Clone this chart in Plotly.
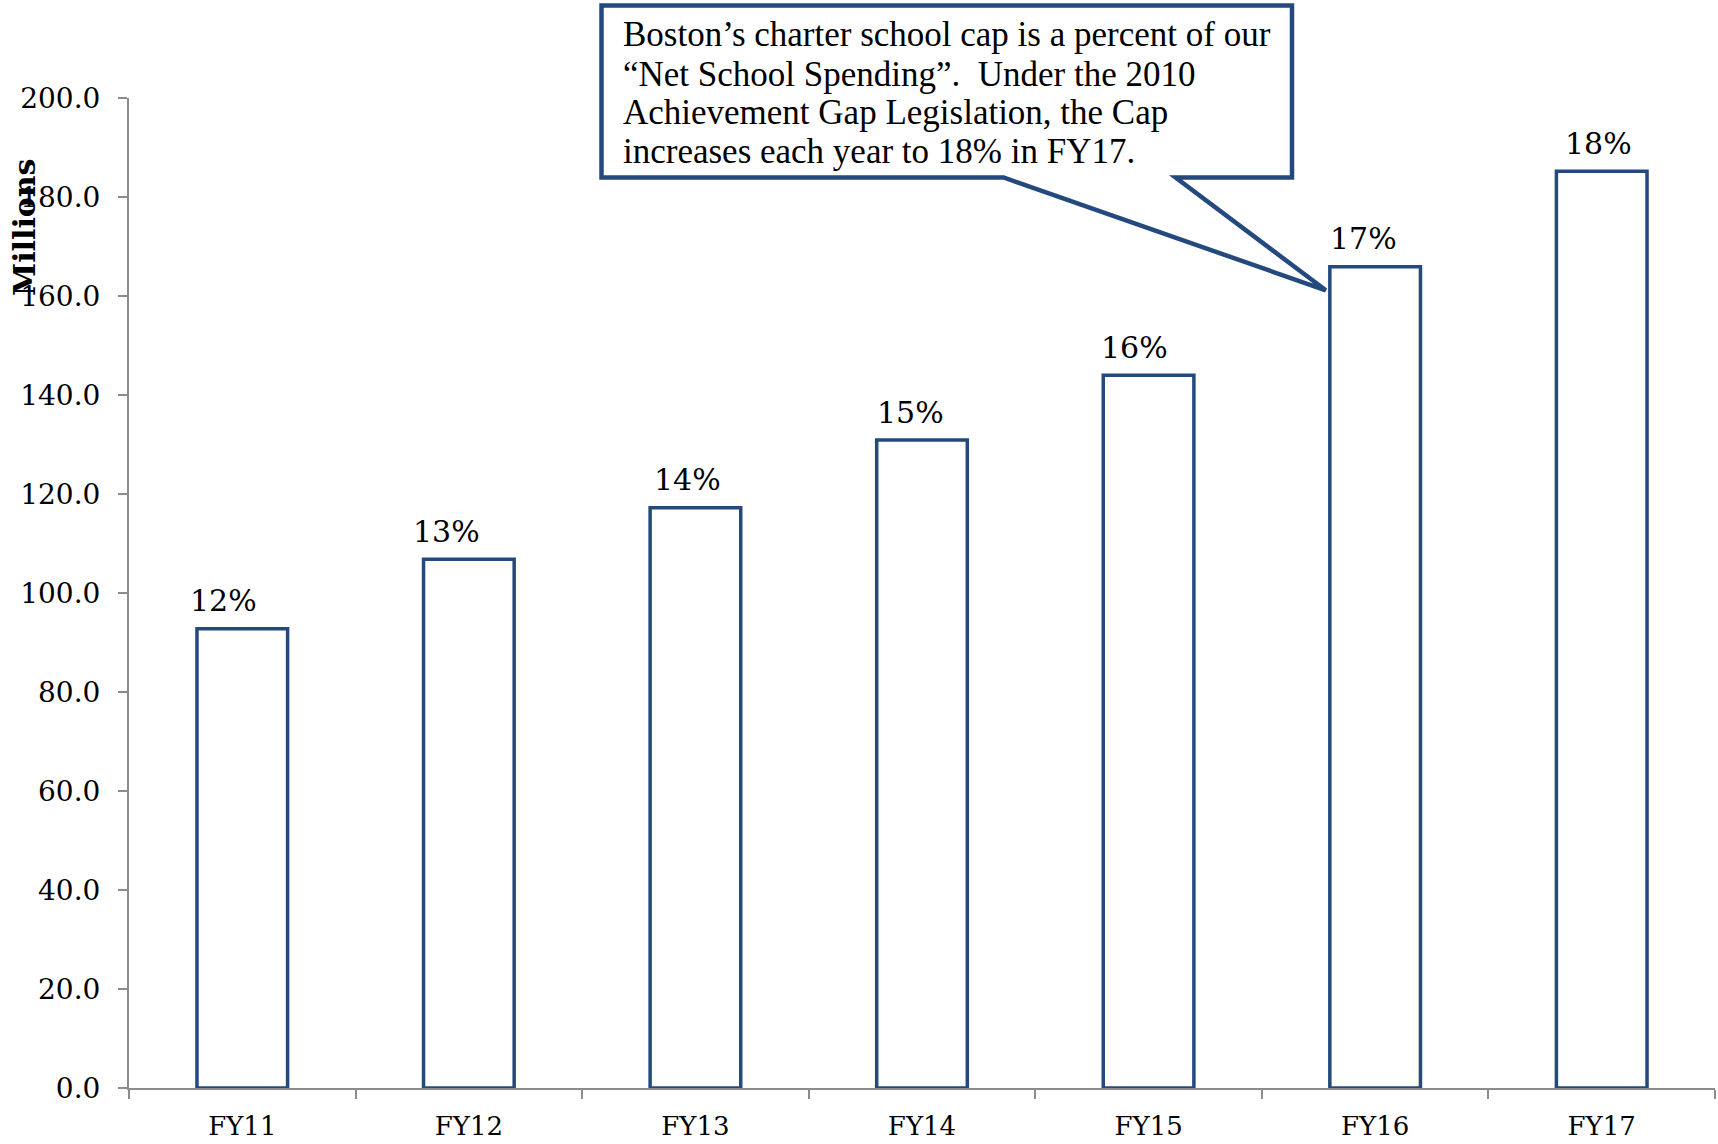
import plotly.graph_objects as go

categories = ["FY11", "FY12", "FY13", "FY14", "FY15", "FY16", "FY17"]
values = [92.8, 106.8, 117.2, 130.9, 144.0, 165.9, 185.2]
pct_labels = ["12%", "13%", "14%", "15%", "16%", "17%", "18%"]
y_ticks = [0, 20, 40, 60, 80, 100, 120, 140, 160, 180, 200]
y_tick_text = [f"{v:.1f}" for v in y_ticks]
callout_lines = [
    "Boston\u2019s charter school cap is a percent of our",
    "\u201cNet School Spending\u201d.  Under the 2010",
    "Achievement Gap Legislation, the Cap",
    "increases each year to 18% in FY17.",
]

# label placement style (pixel offsets of the % labels relative to bar centre)
label_xshift = [-19, -22, -8, -12, -14, -12, -3]

BLUE = "#24497E"
GRAY = "#8C8C8C"
W, H = 1718, 1144
L, R, T, B = 129, 3, 98, 56
pw = W - L - R
ph = H - T - B


def px(x):
    return (x - L) / pw


def py(y):
    return (H - B - y) / ph


fig = go.Figure()
fig.add_trace(go.Bar(
    x=categories, y=values, width=0.4,
    marker=dict(color="white", line=dict(color=BLUE, width=3.5)),
    cliponaxis=False,
))

for cat, val, lab, dx in zip(categories, values, pct_labels, label_xshift):
    fig.add_annotation(x=cat, y=val, text=lab, showarrow=False,
                       xanchor="center", yanchor="middle", yshift=28, xshift=dx,
                       font=dict(family="DejaVu Serif", size=30, color="black"))

# callout shape
bx0, bx1, by0, by1 = 601.5, 1292, 5.5, 177.5
base1, base2 = 1003.6, 1175.6
tip = (1325.8, 290.3)
pts = [(bx0, by0), (bx1, by0), (bx1, by1), (base2, by1), tip, (base1, by1), (bx0, by1)]
path = "M " + " L ".join(f"{px(x):.5f},{py(y):.5f}" for x, y in pts) + " Z"
fig.add_shape(type="path", path=path, xref="paper", yref="paper",
              fillcolor="white", line=dict(color=BLUE, width=4.5), layer="above")

line_y = [35, 74, 113, 151]
for txt, ly in zip(callout_lines, line_y):
    fig.add_annotation(x=px(621), y=py(ly), xref="paper", yref="paper",
                       xanchor="left", yanchor="middle", align="left", showarrow=False,
                       text=txt,
                       font=dict(family="Liberation Serif", size=35, color="black"))

fig.add_annotation(x=px(25), y=py(227), xref="paper", yref="paper",
                   xanchor="center", yanchor="middle",
                   textangle=-90, showarrow=False, text="<b>Millions</b>",
                   font=dict(family="DejaVu Serif", size=30, color="black"))

fig.update_layout(
    width=W, height=H,
    margin=dict(l=L, r=R, t=T, b=B),
    plot_bgcolor="white", paper_bgcolor="white",
    showlegend=False,
    xaxis=dict(showline=True, linecolor=GRAY, linewidth=2,
               ticks="outside", ticklen=9, tickcolor=GRAY, tickwidth=2,
               tickson="boundaries", showgrid=False, ticklabelstandoff=14,
               tickfont=dict(family="DejaVu Serif", size=26, color="black")),
    yaxis=dict(range=[0, 200], tickvals=y_ticks, ticktext=y_tick_text,
               showline=True, linecolor=GRAY, linewidth=2,
               ticks="outside", ticklen=9, tickcolor=GRAY, tickwidth=2,
               showgrid=False, zeroline=False, ticklabelstandoff=12,
               tickfont=dict(family="DejaVu Serif", size=28, color="black")),
)

fig.write_html("out.html")
